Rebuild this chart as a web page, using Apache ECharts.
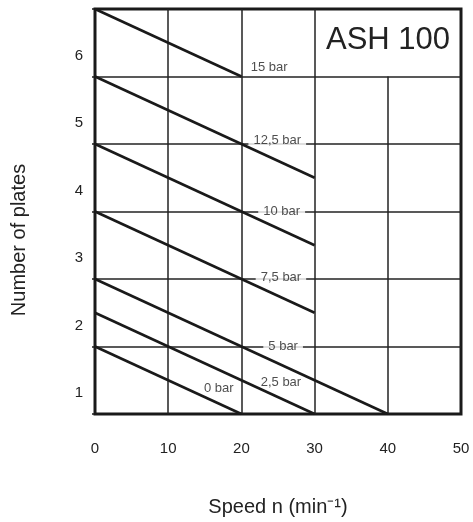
<!DOCTYPE html>
<html>
<head>
<meta charset="utf-8">
<script src="https://cdn.jsdelivr.net/npm/echarts@6/dist/echarts.min.js"></script>
<style>
  html, body { margin: 0; padding: 0; background: #fff; }
  #chart { width: 473px; height: 522px; }
</style>
</head>
<body>
<div id="chart"></div>
<script>
// pressure curves (speed, plates)
const curveNames = ['15 bar', '12,5 bar', '10 bar', '7,5 bar', '5 bar', '2,5 bar', '0 bar']
const curveStart = [[0, 6.5], [0, 5.5], [0, 4.5], [0, 3.5], [0, 2.5], [0, 2.0], [0, 1.5]]
const curveEnd = [[20, 5.5], [30, 4.0], [30, 3.0], [30, 2.0], [40, 0.5], [30, 0.5], [20, 0.5]]

// where the pressure labels sit
const labelX = [23.8, 24.9, 25.5, 25.4, 25.7, 25.4, 16.9]
const labelY = [5.64, 4.55, 3.5, 2.53, 1.5, 0.97, 0.88]

// y tick labels (band centres) and grid
const plateLabels = ['1', '2', '3', '4', '5', '6']
const gridX = [10, 20, 30, 40]
const gridXTop = [6.5, 6.5, 6.5, 5.5] // 40 line stops under the ASH 100 box
const gridY = [1.5, 2.5, 3.5, 4.5, 5.5]

const ink = '#1a1a1a'
const font = 'Liberation Sans, Arial, sans-serif'

const chart = echarts.init(document.getElementById('chart'))

const curveSeries = curveNames.map((n, i) => ({
  name: n,
  type: 'line',
  data: [curveStart[i], curveEnd[i]],
  symbol: 'none',
  lineStyle: { color: ink, width: 2.6 },
  z: 6,
  silent: true
}))

// grid lines drawn as mark lines so the 40 line can stop short
const gridLines = []
gridX.forEach((x, i) => {
  gridLines.push([{ coord: [x, 0.5] }, { coord: [x, gridXTop[i]] }])
})
gridY.forEach(y => {
  gridLines.push([{ coord: [0, y] }, { coord: [50, y] }])
})

const options = {
  animation: false,
  grid: {
    left: 95,
    right: 12,
    top: 9,
    bottom: 106,
    show: true,
    borderColor: ink,
    borderWidth: 3,
    backgroundColor: '#fff'
  },
  xAxis: {
    type: 'value',
    min: 0,
    max: 50,
    interval: 10,
    axisLine: { show: false },
    axisTick: { show: false },
    splitLine: { show: false },
    axisLabel: { fontSize: 15, color: '#222', margin: 27, fontFamily: font },
    name: 'Speed n (min⁻¹)',
    nameLocation: 'middle',
    nameGap: 83,
    nameTextStyle: { fontSize: 20, color: '#222', fontFamily: font }
  },
  yAxis: [
    {
      type: 'value',
      min: 0.5,
      max: 6.5,
      axisLine: { show: false },
      axisTick: { show: false },
      axisLabel: { show: false },
      splitLine: { show: false }
    },
    {
      type: 'category',
      position: 'left',
      data: plateLabels,
      boundaryGap: true,
      axisLine: { show: false },
      axisTick: { show: true, length: 3, lineStyle: { color: ink, width: 1.5 } },
      splitLine: { show: false },
      axisLabel: {
        fontSize: 15,
        color: '#222',
        margin: 12,
        fontFamily: font,
        verticalAlign: 'top',
        lineHeight: 26
      }
    }
  ],
  series: [
    ...curveSeries,
    {
      // grid
      type: 'line',
      data: [],
      silent: true,
      z: 1,
      markLine: {
        silent: true,
        z: 1,
        symbol: 'none',
        label: { show: false },
        lineStyle: { color: '#222', width: 1.5, type: 'solid' },
        data: gridLines
      }
    },
    {
      type: 'scatter',
      symbolSize: 0,
      silent: true,
      z: 4,
      data: curveNames.map((n, i) => ({ name: n, value: [labelX[i], labelY[i]] })),
      label: {
        show: true,
        position: 'inside',
        formatter: '{b}',
        fontSize: 13,
        color: '#222',
        fontFamily: font,
        backgroundColor: '#fff',
        padding: [1, 5]
      }
    }
  ],
  graphic: [
    {
      type: 'text',
      x: 388,
      y: 40,
      style: {
        text: 'ASH 100',
        fontSize: 31,
        fontFamily: font,
        fill: '#222',
        align: 'center',
        verticalAlign: 'middle'
      }
    },
    {
      type: 'text',
      x: 19,
      y: 240,
      rotation: Math.PI / 2,
      style: {
        text: 'Number of plates',
        fontSize: 20,
        fontFamily: font,
        fill: '#222',
        align: 'center',
        verticalAlign: 'middle'
      }
    }
  ]
}
chart.setOption(options)
</script>
</body>
</html>
